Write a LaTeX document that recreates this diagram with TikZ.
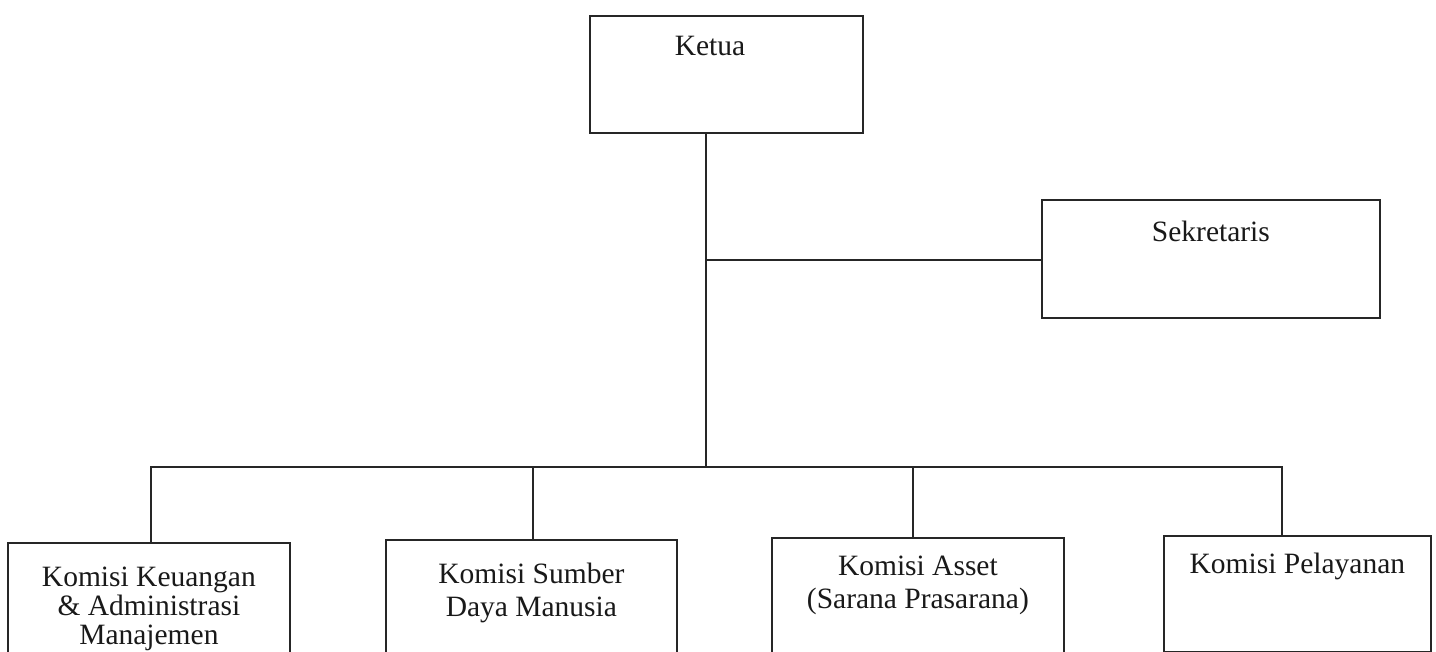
\documentclass[tikz,border=0pt]{standalone}
\usepackage{fontspec}
\setmainfont{Liberation Serif}
\begin{document}
\begin{tikzpicture}[x=1pt,y=-1pt,
  box/.style={draw=black!85,line width=1.8pt,anchor=north west,inner sep=0pt},
  txt/.style={anchor=base,align=center,inner sep=0pt,font=\fontsize{29.5}{33}\selectfont,text=black!90},
  conn/.style={draw=black!85,line width=1.8pt}]
\useasboundingbox (0,0) rectangle (1436,652);
\clip (0,0) rectangle (1436,652);
\fill[white] (0,0) rectangle (1436,652);
% boxes
\node[box,minimum width=273pt,minimum height=117pt] (ketua) at (589,15) {};
\node[box,minimum width=338pt,minimum height=118pt] (sek) at (1041,199) {};
\node[box,minimum width=282pt,minimum height=130pt] (b1) at (7,542) {};
\node[box,minimum width=291pt,minimum height=130pt] (b2) at (385,539) {};
\node[box,minimum width=292pt,minimum height=130pt] (b3) at (771,537) {};
\node[box,minimum width=267pt,minimum height=116pt] (b4) at (1163,535) {};
% texts (base anchor = baseline of the last line)
\node[txt] (tk) at (710,56) {Ketua};
\node[txt] (ts) at (sek.north |- 0,242) {Sekretaris};
\node[txt,font=\fontsize{29.5}{29}\selectfont] (t1) at (b1.north |- 0,644) {Komisi Keuangan\\\& Administrasi\\Manajemen};
\node[txt] (t2) at (b2.north |- 0,616) {Komisi Sumber\\Daya Manusia};
\node[txt] (t3) at (b3.north |- 0,608) {Komisi Asset\\(Sarana Prasarana)};
\node[txt] (t4) at (b4.north |- 0,573) {Komisi Pelayanan};
% connector points
\coordinate (j1) at (706,260);
\coordinate (j2) at (706,467);
\coordinate (c1) at (151,467);
\coordinate (c2) at (533,467);
\coordinate (c3) at (913,467);
\coordinate (c4) at (1282,467);
% connectors
\draw[conn] (j2 |- ketua.south) -- (j2);
\draw[conn] (j1) -- (j1 -| sek.west);
\draw[conn] (c1 |- b1.north) -- (c1) -- (c4) -- (c4 |- b4.north);
\draw[conn] (c2) -- (c2 |- b2.north);
\draw[conn] (c3) -- (c3 |- b3.north);
\end{tikzpicture}
\end{document}
